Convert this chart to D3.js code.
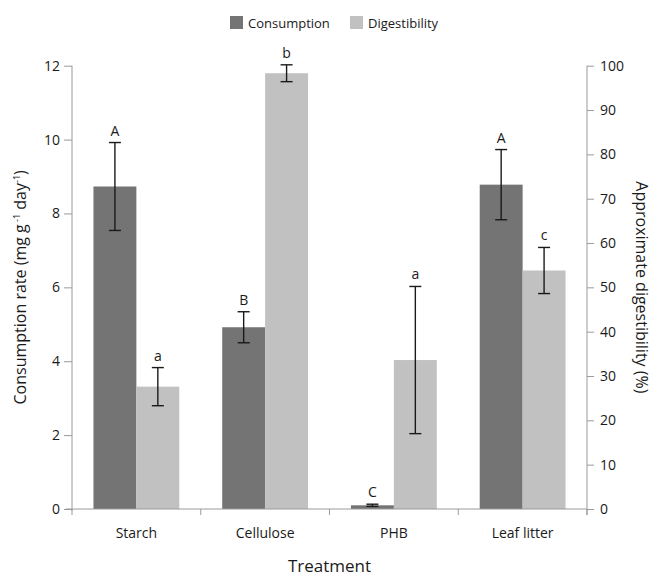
<!DOCTYPE html>
<html>
<head>
<meta charset="utf-8">
<script src="https://cdn.jsdelivr.net/npm/d3@7"></script>
<style>
  body { margin: 0; background: #fff; }
  text { font-family: "Open Sans", "Noto Sans", sans-serif; fill: #1a1a1a; }
</style>
</head>
<body>
<div class="container"></div>
<script>
var width = 654;
var height = 581;
var padding = {
  top: 65.7,
  bottom: 72,
  left: 72,
  right: 67
};

// values
var treatments = ["Starch", "Cellulose", "PHB", "Leaf litter"];
var consumption = [8.73, 4.92, 0.1, 8.78];
var consumptionErr = [1.19, 0.42, 0.03, 0.95];
var consumptionLetters = ["A", "B", "C", "A"];
var digestibility = [27.6, 98.3, 33.6, 53.8];
var digestibilityErr = [4.3, 1.9, 16.6, 5.2];
var digestibilityLetters = ["a", "b", "a", "c"];
var leftTicks = [0, 2, 4, 6, 8, 10, 12];
var rightTicks = [0, 10, 20, 30, 40, 50, 60, 70, 80, 90, 100];

var colors = {
  consumption: "#747474",
  digestibility: "#c1c1c1",
  axis: "#9a9a9a"
};

var svg = d3.select(".container").append("svg")
  .attr("width", width)
  .attr("height", height);

var x0 = d3.scaleBand()
  .domain(treatments)
  .range([padding.left, width - padding.right]);
var x1 = d3.scaleBand()
  .domain(["consumption", "digestibility"])
  .range([0, x0.bandwidth()])
  .paddingInner(0)
  .paddingOuter(0.5);
var yLeft = d3.scaleLinear().domain([0, 12]).range([height - padding.bottom, padding.top]);
var yRight = d3.scaleLinear().domain([0, 100]).range([height - padding.bottom, padding.top]);

// build rows for each series
var series = [
  {key: "consumption", scale: yLeft, values: consumption, err: consumptionErr, letters: consumptionLetters},
  {key: "digestibility", scale: yRight, values: digestibility, err: digestibilityErr, letters: digestibilityLetters}
];

series.forEach(function (s) {
  var rows = treatments.map(function (t, i) {
    return {treatment: t, value: s.values[i], err: s.err[i], letter: s.letters[i]};
  });
  var g = svg.append("g").attr("class", "series " + s.key);

  g.selectAll("rect")
    .data(rows)
    .enter().append("rect")
    .attr("x", d => x0(d.treatment) + x1(s.key))
    .attr("width", x1.bandwidth())
    .attr("y", d => s.scale(d.value))
    .attr("height", d => s.scale(0) - s.scale(d.value))
    .attr("fill", colors[s.key]);

  var cx = d => x0(d.treatment) + x1(s.key) + x1.bandwidth() / 2;
  var cap = 6;

  g.selectAll("line.err")
    .data(rows)
    .enter().append("line")
    .attr("class", "err")
    .attr("x1", cx).attr("x2", cx)
    .attr("y1", d => s.scale(d.value + d.err))
    .attr("y2", d => s.scale(d.value - d.err))
    .style("stroke", "#1a1a1a").style("stroke-width", 1.4);

  ["top", "bottom"].forEach(function (end) {
    g.selectAll("line.cap-" + end)
      .data(rows)
      .enter().append("line")
      .attr("class", "cap-" + end)
      .attr("x1", d => cx(d) - cap).attr("x2", d => cx(d) + cap)
      .attr("y1", d => s.scale(end === "top" ? d.value + d.err : d.value - d.err))
      .attr("y2", d => s.scale(end === "top" ? d.value + d.err : d.value - d.err))
      .style("stroke", "#1a1a1a").style("stroke-width", 1.4);
  });

  g.selectAll("text.letter")
    .data(rows)
    .enter().append("text")
    .attr("class", "letter")
    .attr("x", cx)
    .attr("y", d => s.scale(d.value + d.err) - 7)
    .style("text-anchor", "middle")
    .style("font-size", "14px")
    .text(d => d.letter);
});

// axes
var axisLeft = d3.axisLeft(yLeft).tickValues(leftTicks).tickSize(8).tickPadding(4);
var axisRight = d3.axisRight(yRight).tickValues(rightTicks).tickSize(7).tickPadding(6);

function styleAxis(g) {
  g.select(".domain").remove();
  g.selectAll(".tick line").style("stroke", colors.axis);
  g.selectAll(".tick text")
    .style("font-size", "14px")
    .style("font-family", "\"Open Sans\", sans-serif")
    .style("fill", "#1a1a1a");
}

var gl = svg.append("g")
  .attr("transform", "translate(" + padding.left + ",0)")
  .call(axisLeft)
  .call(styleAxis);
gl.append("line")
  .attr("y1", yLeft(12)).attr("y2", yLeft(0) + 2)
  .style("stroke", colors.axis);

var gr = svg.append("g")
  .attr("transform", "translate(" + (width - padding.right) + ",0)")
  .call(axisRight)
  .call(styleAxis);
gr.append("line")
  .attr("y1", yRight(100)).attr("y2", yRight(0) + 6)
  .style("stroke", colors.axis);

// x axis: baseline with boundary ticks
var baseY = yLeft(0);
var gx = svg.append("g").attr("class", "x-axis");
gx.append("line")
  .attr("x1", padding.left - 6).attr("x2", width - padding.right)
  .attr("y1", baseY).attr("y2", baseY)
  .style("stroke", colors.axis);
var bounds = treatments.map(t => x0(t)).concat([x0.range()[1]]);
gx.selectAll("line.bound")
  .data(bounds)
  .enter().append("line")
  .attr("class", "bound")
  .attr("x1", d => d).attr("x2", d => d)
  .attr("y1", baseY).attr("y2", baseY + 6)
  .style("stroke", colors.axis);
gx.selectAll("text")
  .data(treatments)
  .enter().append("text")
  .attr("x", d => x0(d) + x0.bandwidth() / 2)
  .attr("y", baseY + 29)
  .style("text-anchor", "middle")
  .style("font-size", "14px")
  .text(d => d);

// axis titles
var midY = (yLeft(0) + yLeft(12)) / 2;
var leftTitle = svg.append("text")
  .attr("transform", "translate(26," + midY + ") rotate(-90)")
  .style("text-anchor", "middle")
  .style("font-size", "16px");
leftTitle.append("tspan").text("Consumption rate (mg g");
leftTitle.append("tspan").attr("dy", -6).style("font-size", "9px").text(" -1");
leftTitle.append("tspan").attr("dy", 6).text(" day");
leftTitle.append("tspan").attr("dy", -6).style("font-size", "9px").text("-1");
leftTitle.append("tspan").attr("dy", 6).text(")");

svg.append("text")
  .attr("transform", "translate(636," + midY + ") rotate(90)")
  .style("text-anchor", "middle")
  .style("font-size", "16px")
  .text("Approximate digestibility (%)");

svg.append("text")
  .attr("x", (padding.left + width - padding.right) / 2)
  .attr("y", 572)
  .style("text-anchor", "middle")
  .style("font-size", "17px")
  .text("Treatment");

// legend
var legendItems = [
  {key: "consumption", label: "Consumption", x: 230},
  {key: "digestibility", label: "Digestibility", x: 350}
];
var legend = svg.append("g").attr("class", "legend");
legendItems.forEach(function (item) {
  legend.append("rect")
    .attr("x", item.x).attr("y", 16)
    .attr("width", 13).attr("height", 13)
    .attr("fill", colors[item.key]);
  legend.append("text")
    .attr("x", item.x + 18).attr("y", 27.5)
    .style("font-size", "13px")
    .text(item.label);
});
</script>
</body>
</html>
